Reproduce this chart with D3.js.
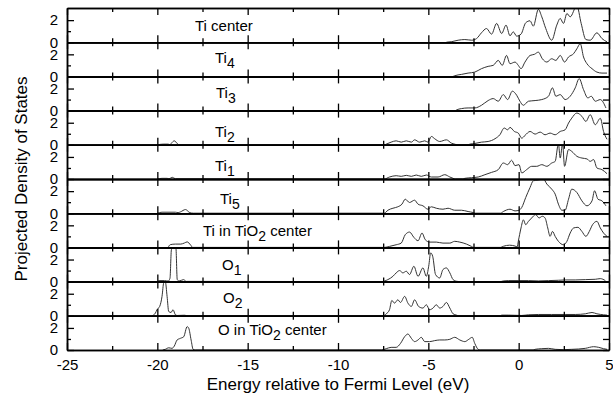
<!DOCTYPE html>
<meta charset="utf-8">
<style>
body { margin: 0; background: #fff; }
text { font-family: "Liberation Sans", Arial, sans-serif; fill: #000; }
.curve { fill: none; stroke: #333; stroke-width: 1; }
.axis path, .axis line { stroke: #000; }
.axis path { stroke-width: 1.5; }
.axis line { stroke-width: 1.3; }
</style>
<svg width="613" height="398"></svg>
<script src="https://d3js.org/d3.v7.min.js"></script>
<script>

// projected DOS, [energy (eV), states]
var tiCenter = [[-4.0,0],[-3.7,0.05],[-3.35,0.18],[-2.98,0.24],[-2.6,0.18],[-2.33,0.33],[-2.06,0.85],[-1.78,1.24],[-1.5,0.73],[-1.22,1.7],[-0.94,0.79],[-0.7,1.55],[-0.48,0.58],[-0.3,0.94],[-0.11,0.55],[0.13,0.73],[0.39,1.76],[0.63,1.94],[0.81,1.45],[1.09,2.97],[1.28,2.3],[1.5,1.24],[1.83,0.18],[2.11,1.55],[2.3,2.15],[2.48,1.7],[2.67,2.6],[2.85,2.3],[3.22,3.3],[3.46,1.7],[3.72,0.24],[3.96,0.18],[4.33,0.85],[4.61,0.33],[4.89,0.03]];
var ti4 = [[-3.63,0],[-3.54,0.06],[-3.17,0.18],[-2.8,0.3],[-2.43,0.39],[-2.06,0.7],[-1.69,0.91],[-1.41,1.0],[-1.13,1.45],[-0.91,1.0],[-0.67,1.9],[-0.48,1.15],[-0.2,1.3],[-0.02,1.0],[0.13,0.7],[0.35,1.3],[0.63,1.9],[0.87,2.0],[1.09,2.2],[1.31,1.6],[1.56,1.3],[1.83,1.6],[2.06,1.45],[2.3,1.9],[2.54,1.3],[2.76,1.76],[3.04,2.06],[3.22,2.5],[3.41,2.97],[3.59,1.76],[3.78,1.15],[4.06,0.7],[4.33,0.39],[4.61,0.3],[4.89,0.3]];
var ti3 = [[-3.5,0],[-3.44,0.06],[-3.17,0.18],[-2.8,0.24],[-2.43,0.24],[-2.06,0.48],[-1.69,0.91],[-1.41,1.09],[-1.13,0.85],[-0.85,1.45],[-0.61,1.0],[-0.35,1.76],[-0.11,1.39],[0.07,0.85],[0.26,0.48],[0.54,0.85],[0.91,0.91],[1.28,1.0],[1.65,1.3],[1.87,2.06],[2.06,1.3],[2.3,1.45],[2.57,1.0],[2.85,1.3],[3.13,2.06],[3.35,2.9],[3.59,1.9],[3.83,1.15],[4.02,1.3],[4.24,0.85],[4.52,1.0],[4.83,0.24]];
var ti2 = [[-20,0],[-19.67,0.06],[-19.4,0.06],[-19.3,0],[-19.22,0.15],[-19.06,0.36],[-18.89,0.1],[-18.8,0],[-7.43,0],[-7.33,0.06],[-7.06,0.24],[-6.78,0.36],[-6.5,0.24],[-6.22,0.36],[-5.94,0.24],[-5.76,0.45],[-5.48,0.24],[-5.2,0.36],[-5.02,0.24],[-4.83,0.76],[-4.65,0.55],[-4.37,0.3],[-4.0,0.45],[-3.72,0.15],[-3.54,0.06],[-3.4,0],[-2.8,0],[-2.7,0.06],[-2.43,0.12],[-2.06,0.24],[-1.69,0.3],[-1.31,0.55],[-1.04,0.91],[-0.8,1.52],[-0.61,1.36],[-0.48,1.58],[-0.24,1.21],[-0.02,1.06],[0.17,0.6],[0.35,0.85],[0.63,1.21],[0.91,0.97],[1.19,1.15],[1.46,0.91],[1.74,1.06],[2.02,0.91],[2.3,1.21],[2.57,1.36],[2.76,1.97],[2.94,2.42],[3.22,2.88],[3.5,2.58],[3.72,2.12],[3.96,2.73],[4.24,1.82],[4.52,2.4],[4.7,1.2],[4.89,0.5]];
var ti1 = [[-20,0],[-19.74,0.06],[-19.46,0.06],[-19.35,0.02],[-19.17,0.15],[-19.0,0.02],[-7.43,0],[-7.15,0.18],[-6.78,0.3],[-6.5,0.24],[-6.22,0.33],[-5.94,0.24],[-5.67,0.36],[-5.39,0.24],[-5.11,0.36],[-4.83,0.18],[-4.46,0.18],[-4.09,0.39],[-3.81,0.18],[-3.63,0.06],[-3.5,0],[-3.1,0],[-2.98,0.06],[-2.61,0.12],[-2.24,0.18],[-1.87,0.39],[-1.5,0.6],[-1.13,0.85],[-0.85,1.45],[-0.61,1.3],[-0.39,1.7],[-0.2,1.21],[0.02,1.3],[0.17,0.55],[0.44,0.85],[0.72,1.15],[1.0,1.15],[1.28,1.3],[1.56,1.15],[1.83,1.45],[2.02,1.6],[2.2,3.2],[2.3,1.9],[2.43,3.2],[2.54,1.15],[2.76,2.67],[2.94,2.5],[3.22,2.06],[3.5,1.9],[3.78,1.82],[3.96,1.6],[4.15,1.76],[4.33,1.0],[4.61,0.85],[4.89,0.48]];
var ti5 = [[-20,0],[-19.74,0.09],[-19.0,0.09],[-18.85,0.05],[-18.72,0.12],[-18.44,0.33],[-18.2,0.05],[-18.0,0],[-7.43,0],[-7.24,0.27],[-6.96,0.45],[-6.69,0.58],[-6.46,0.82],[-6.28,1.27],[-6.04,0.97],[-5.76,1.18],[-5.57,0.82],[-5.3,0.67],[-5.02,0.36],[-4.83,0.58],[-4.56,0.45],[-4.19,0.36],[-3.91,0.45],[-3.54,0.27],[-3.17,0.27],[-2.8,0.15],[-2.52,0.06],[-2.4,0],[-1.0,0],[-0.85,0.15],[-0.48,0.36],[-0.2,0.21],[0.02,0.27],[0.17,0.52],[0.39,1.42],[0.63,2.33],[0.81,2.94],[1.09,3.0],[1.37,3.1],[1.56,2.64],[1.83,2.18],[2.02,1.73],[2.2,0.82],[2.39,0.27],[2.57,0.27],[2.76,1.27],[2.94,2.18],[3.22,1.88],[3.5,1.12],[3.78,0.67],[4.06,1.12],[4.2,2.03],[4.39,1.27],[4.61,1.12],[4.83,0.67]];
var tiInTiO2 = [[-19.4,0],[-19.28,0.25],[-19.0,0.3],[-18.7,0.3],[-18.5,0.4],[-18.35,0.5],[-18.15,0.2],[-18.05,0],[-7.43,0],[-7.15,0.09],[-6.78,0.24],[-6.5,0.39],[-6.28,1.15],[-6.04,1.39],[-5.8,0.91],[-5.57,0.6],[-5.35,1.3],[-5.17,0.7],[-4.93,0.48],[-4.56,0.48],[-4.19,0.39],[-3.81,0.39],[-3.54,0.55],[-3.26,0.48],[-2.89,0.3],[-2.61,0.09],[-2.5,0],[-1.0,0],[-0.85,0.1],[-0.5,0.2],[-0.2,0.12],[-0.08,0.05],[-0.02,0.55],[0.13,1.76],[0.26,2.5],[0.39,2.06],[0.54,2.36],[0.72,2.67],[0.94,2.97],[1.13,2.67],[1.31,2.82],[1.46,2.67],[1.61,1.76],[1.74,1.0],[1.87,1.45],[2.02,1.0],[2.2,0.55],[2.48,0.24],[2.67,0.55],[2.85,1.3],[3.04,1.76],[3.28,1.82],[3.5,1.45],[3.72,1.0],[3.91,1.45],[4.09,2.06],[4.33,2.36],[4.52,1.76],[4.7,1.3],[4.89,1.0]];
var o1 = [[-20,0],[-19.9,0.09],[-19.6,0.09],[-19.4,0.05],[-19.3,0.3],[-19.22,2.9],[-19.1,3.05],[-18.97,3.0],[-18.9,0.2],[-18.8,0.05],[-18.55,0.18],[-18.4,0.02],[-7.6,0],[-7.24,0.18],[-6.96,0.48],[-6.78,0.79],[-6.59,1.0],[-6.41,0.79],[-6.22,0.94],[-6.04,0.64],[-5.8,1.39],[-5.57,0.48],[-5.3,1.24],[-5.11,0.48],[-4.98,1.39],[-4.87,2.6],[-4.76,2.3],[-4.6,0.64],[-4.37,0.33],[-4.19,1.09],[-4.0,1.24],[-3.81,0.79],[-3.63,0.18],[-3.44,0.03],[-3.3,0],[-1.0,0],[-0.85,0.06],[-0.57,0.09],[-0.02,0.09],[0.54,0.09],[1.09,0.06],[1.65,0.09],[2.2,0.12],[2.57,0.15],[3.13,0.15],[3.69,0.18],[4.24,0.21],[4.52,0.27],[4.8,0.09]];
var o2 = [[-20.3,0],[-20.11,0.24],[-20.02,0.55],[-19.87,0.85],[-19.74,1.76],[-19.65,2.97],[-19.56,3.1],[-19.46,1.76],[-19.37,0.39],[-19.24,0.3],[-19.13,0.55],[-19.0,0.09],[-18.9,0.03],[-18.5,0.05],[-18.3,0],[-7.5,0],[-7.33,0.18],[-7.15,0.55],[-7.02,1.39],[-6.87,1.15],[-6.69,1.45],[-6.54,1.21],[-6.31,1.76],[-6.13,1.15],[-5.94,0.85],[-5.76,1.45],[-5.54,0.85],[-5.3,0.7],[-5.11,1.0],[-4.93,0.55],[-4.74,0.7],[-4.56,1.0],[-4.37,0.7],[-4.19,0.85],[-4.0,1.21],[-3.81,0.7],[-3.63,0.18],[-3.44,0.06],[-3.3,0],[-1.0,0],[-0.94,0.06],[-0.57,0.06],[0.17,0.03],[0.54,0.09],[1.09,0.12],[1.83,0.12],[2.57,0.12],[3.13,0.12],[3.69,0.18],[4.06,0.3],[4.33,0.18],[4.7,0.09],[4.89,0.06]];
var oInTiO2 = [[-19.7,0],[-19.56,0.06],[-19.37,0.2],[-19.19,0.15],[-19.06,0.36],[-18.91,0.9],[-18.72,1.06],[-18.54,1.2],[-18.35,2.12],[-18.26,1.97],[-18.13,0.9],[-18.02,0.06],[-17.9,0],[-7.6,0],[-7.33,0.12],[-7.06,0.24],[-6.78,0.24],[-6.54,0.6],[-6.31,1.21],[-6.13,1.45],[-5.94,1.06],[-5.76,0.76],[-5.57,0.91],[-5.39,1.15],[-5.2,0.76],[-4.93,0.76],[-4.65,0.85],[-4.37,0.91],[-4.09,0.91],[-3.81,0.97],[-3.54,1.15],[-3.26,0.91],[-2.98,0.76],[-2.76,0.97],[-2.57,1.15],[-2.43,0.6],[-2.24,0.06],[-2.1,0],[0.8,0],[0.91,0.06],[1.28,0.12],[1.65,0.15],[2.02,0.06],[2.48,0.03],[2.94,0.06],[3.69,0.15],[4.15,0.3],[4.43,0.24],[4.7,0.12],[4.89,0.06]];

var series = [tiCenter, ti4, ti3, ti2, ti1, ti5, tiInTiO2, o1, o2, oInTiO2];
// label = [text, subscript, text after]
var labels = [["Ti center","",""],["Ti","4",""],["Ti","3",""],["Ti","2",""],["Ti","1",""],["Ti","5",""],
              ["Ti in TiO","2"," center"],["O","1",""],["O","2",""],["O in TiO","2"," center"]];

var xMajor = [-25,-20,-15,-10,-5,0,5];
var xMinor = [-22.5,-17.5,-12.5,-7.5,-2.5,2.5];
var yMajor = [0,2];
var yMinor = [1];

// layout
var mLeft = 67, mRight = 609, mTop = 8, mBottom = 350;
var panelH = (mBottom - mTop) / series.length;
var labelLeft = [195,215,216,215,215,220,203,222,223,218];
var labelLift = [11,13,13,8,8,9,11,12,13,15];

var svg = d3.select("svg");

var x = d3.scaleLinear().domain([-25, 5]).range([mLeft, mRight]);
var plain = function(d) { return String(d); };

var defs = svg.append("defs");

series.forEach(function(data, i) {
  var y0 = mTop + i * panelH, y1 = y0 + panelH;
  var y = d3.scaleLinear().domain([0, 3.1]).range([y1, y0]);

  defs.append("clipPath").attr("id", "c" + i)
    .append("rect").attr("x", mLeft).attr("y", y0).attr("width", mRight - mLeft).attr("height", panelH);

  var line = d3.line()
      .x(function(d) { return x(d[0]); })
      .y(function(d) { return y(d[1]); })
      .curve(d3.curveMonotoneX);

  svg.append("path")
      .datum(data)
      .attr("class", "curve")
      .attr("clip-path", "url(#c" + i + ")")
      .attr("d", line);

  var g = svg.append("g");

  // bottom and top edges, ticks pointing inward
  g.append("g").attr("class", "axis").attr("transform", "translate(0," + y1 + ")")
    .call(d3.axisBottom(x).tickValues(xMajor).tickSizeInner(-7).tickSizeOuter(0)
      .tickPadding(9).tickFormat(i == series.length - 1 ? plain : ""));
  g.append("g").attr("class", "axis").attr("transform", "translate(0," + y1 + ")")
    .call(d3.axisBottom(x).tickValues(xMinor).tickSizeInner(-4).tickSizeOuter(0).tickFormat(""));
  g.append("g").attr("class", "axis").attr("transform", "translate(0," + y0 + ")")
    .call(d3.axisTop(x).tickValues(xMajor).tickSizeInner(-7).tickSizeOuter(0).tickFormat(""));
  g.append("g").attr("class", "axis").attr("transform", "translate(0," + y0 + ")")
    .call(d3.axisTop(x).tickValues(xMinor).tickSizeInner(-4).tickSizeOuter(0).tickFormat(""));

  // left and right edges
  g.append("g").attr("class", "axis").attr("transform", "translate(" + mLeft + ",0)")
    .call(d3.axisLeft(y).tickValues(yMajor).tickSizeInner(-7).tickSizeOuter(0).tickPadding(9).tickFormat(plain));
  g.append("g").attr("class", "axis").attr("transform", "translate(" + mLeft + ",0)")
    .call(d3.axisLeft(y).tickValues(yMinor).tickSizeInner(-4).tickSizeOuter(0).tickFormat(""));
  g.append("g").attr("class", "axis").attr("transform", "translate(" + mRight + ",0)")
    .call(d3.axisRight(y).tickValues(yMajor.concat(yMinor)).tickSizeInner(-6).tickSizeOuter(0).tickFormat(""));

  var t = svg.append("text")
      .attr("x", labelLeft[i])
      .attr("y", y1 - labelLift[i])
      .style("font-size", "15px");
  t.append("tspan").text(labels[i][0]);
  if (labels[i][1]) t.append("tspan").attr("dy", 5).style("font-size", "14px").text(labels[i][1]);
  if (labels[i][2]) t.append("tspan").attr("dy", -5).text(labels[i][2]);
});

svg.selectAll(".axis text")
    .style("font-size", "15px")
    .style("font-family", "'Liberation Sans', Arial, sans-serif");

svg.append("text")
    .attr("transform", "translate(27," + (mTop + mBottom) / 2 + ") rotate(-90)")
    .attr("text-anchor", "middle")
    .style("font-size", "17px")
    .text("Projected Density of States");

svg.append("text")
    .attr("x", (mLeft + mRight) / 2)
    .attr("y", 390)
    .attr("text-anchor", "middle")
    .style("font-size", "17px")
    .text("Energy relative to Fermi Level (eV)");

</script>
